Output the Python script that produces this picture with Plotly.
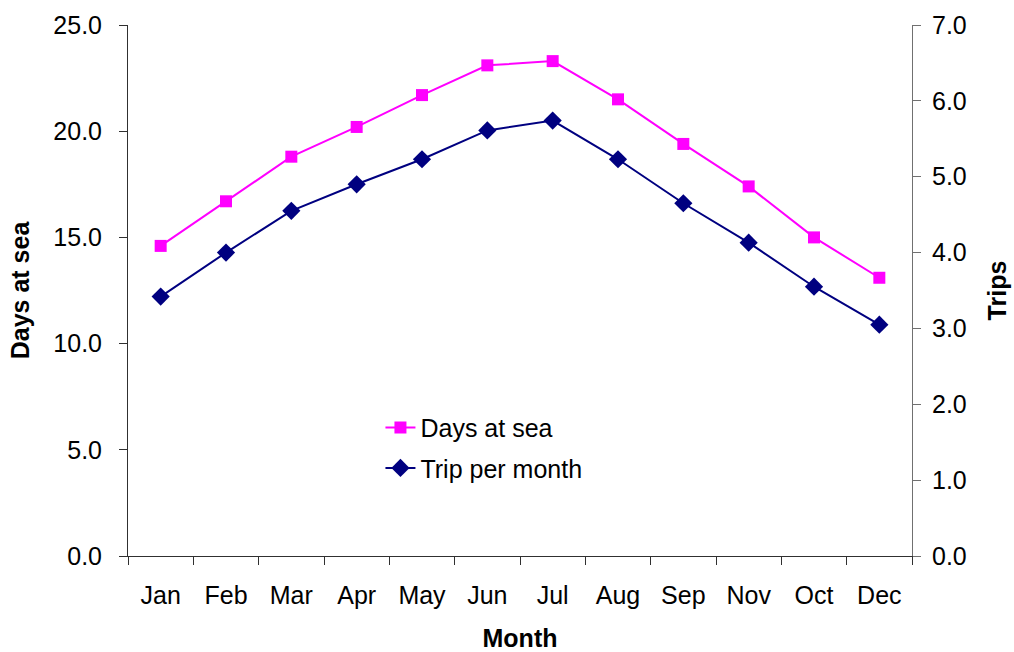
import plotly.graph_objects as go

# Monthly fleet activity
months = ["Jan", "Feb", "Mar", "Apr", "May", "Jun", "Jul", "Aug", "Sep", "Nov", "Oct", "Dec"]
days_at_sea = [14.6, 16.7, 18.8, 20.2, 21.7, 23.1, 23.3, 21.5, 19.4, 17.4, 15.0, 13.1]
trips_per_month = [3.42, 4.00, 4.55, 4.90, 5.23, 5.61, 5.74, 5.23, 4.65, 4.13, 3.55, 3.05]

left_ticks = [0, 5, 10, 15, 20, 25]
right_ticks = [0, 1, 2, 3, 4, 5, 6, 7]

FONT = "Liberation Sans, Arial, sans-serif"
FS = 25

fig = go.Figure()
fig.add_trace(go.Scatter(
    x=months, y=days_at_sea, name="Days at sea", mode="lines+markers",
    line=dict(color="#FF00FF", width=2),
    marker=dict(symbol="square", size=12, color="#FF00FF"),
    legendgroup="a",
))
fig.add_trace(go.Scatter(
    x=months, y=trips_per_month, name="Trip per month", mode="lines+markers",
    line=dict(color="#000080", width=2),
    marker=dict(symbol="diamond", size=14, color="#000080"),
    yaxis="y2", legendgroup="b",
))

fig.update_layout(
    width=1014, height=652,
    margin=dict(l=128, r=102, t=25, b=96),
    paper_bgcolor="white", plot_bgcolor="white",
    font=dict(family=FONT, size=FS, color="black"),
    showlegend=True,
    legend=dict(
        x=0.322, y=0.285, xanchor="left", yanchor="top",
        bgcolor="rgba(0,0,0,0)", font=dict(size=FS),
        traceorder="grouped", tracegroupgap=5,
    ),
    xaxis=dict(
        type="category", categoryorder="array", categoryarray=months,
        range=[-0.5, len(months) - 0.5], automargin=False,
        showline=True, linecolor="#303030", linewidth=1,
        ticks="outside", ticklen=8, tickcolor="#303030", tickson="boundaries",
        ticklabelstandoff=17,
        showgrid=False, zeroline=False,
        title=dict(text="<b>Month</b>", standoff=26, font=dict(size=FS)),
    ),
    yaxis=dict(
        range=[0, 25], tickvals=left_ticks, tickformat=".1f", automargin=False,
        showline=True, linecolor="#303030", linewidth=1,
        ticks="outside", ticklen=8, tickcolor="#303030",
        ticklabelstandoff=12,
        showgrid=False, zeroline=False,
        title=dict(text="<b>Days at sea</b>", standoff=16, font=dict(size=FS)),
    ),
    yaxis2=dict(
        range=[0, 7], tickvals=right_ticks, tickformat=".1f", automargin=False,
        overlaying="y", side="right",
        showline=True, linecolor="#707070", linewidth=1,
        ticks="outside", ticklen=8, tickcolor="#707070",
        ticklabelstandoff=6,
        showgrid=False, zeroline=False,
        title=dict(text="<b>Trips</b>", standoff=22, font=dict(size=FS)),
    ),
)

fig.write_html("out.html")
